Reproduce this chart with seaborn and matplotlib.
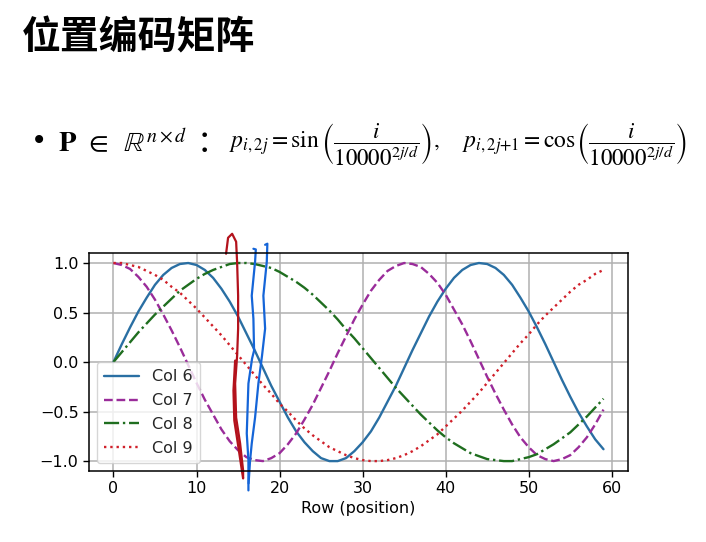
import matplotlib
matplotlib.use("Agg")
import matplotlib.pyplot as plt
import seaborn as sns
import pandas as pd

# ---------------- data ----------------
rows = list(range(60))
col6 = [0.00, 0.18, 0.35, 0.51, 0.65, 0.78, 0.88, 0.95, 0.99, 1.00,
        0.98, 0.93, 0.85, 0.74, 0.61, 0.46, 0.29, 0.12, -0.06, -0.24,
        -0.40, -0.56, -0.70, -0.81, -0.90, -0.97, -1.00, -1.00, -0.97, -0.90,
        -0.81, -0.70, -0.56, -0.40, -0.24, -0.06, 0.12, 0.29, 0.46, 0.61,
        0.74, 0.85, 0.93, 0.98, 1.00, 0.99, 0.95, 0.88, 0.78, 0.65,
        0.51, 0.35, 0.18, 0.00, -0.18, -0.35, -0.51, -0.65, -0.78, -0.88]
col7 = [1.00, 0.98, 0.94, 0.86, 0.76, 0.63, 0.48, 0.32, 0.15, -0.03,
        -0.21, -0.38, -0.53, -0.68, -0.80, -0.89, -0.96, -0.99, -1.00, -0.97,
        -0.92, -0.83, -0.72, -0.58, -0.43, -0.26, -0.09, 0.09, 0.26, 0.43,
        0.58, 0.72, 0.83, 0.92, 0.97, 1.00, 0.99, 0.96, 0.89, 0.80,
        0.68, 0.53, 0.38, 0.21, 0.03, -0.15, -0.32, -0.48, -0.63, -0.76,
        -0.86, -0.94, -0.98, -1.00, -0.98, -0.94, -0.86, -0.76, -0.63, -0.48]
col8 = [0.00, 0.10, 0.20, 0.30, 0.39, 0.48, 0.56, 0.64, 0.72, 0.78,
        0.84, 0.89, 0.93, 0.96, 0.99, 1.00, 1.00, 0.99, 0.97, 0.95,
        0.91, 0.86, 0.81, 0.75, 0.68, 0.60, 0.52, 0.43, 0.33, 0.24,
        0.14, 0.04, -0.06, -0.16, -0.26, -0.35, -0.44, -0.53, -0.61, -0.69,
        -0.76, -0.82, -0.87, -0.92, -0.95, -0.98, -0.99, -1.00, -1.00, -0.98,
        -0.96, -0.93, -0.88, -0.83, -0.77, -0.71, -0.63, -0.55, -0.46, -0.37]
col9 = [1.00, 1.00, 0.98, 0.96, 0.92, 0.88, 0.83, 0.76, 0.70, 0.62,
        0.54, 0.45, 0.36, 0.27, 0.17, 0.07, -0.03, -0.13, -0.23, -0.32,
        -0.42, -0.50, -0.59, -0.67, -0.74, -0.80, -0.86, -0.90, -0.94, -0.97,
        -0.99, -1.00, -1.00, -0.99, -0.97, -0.94, -0.90, -0.85, -0.79, -0.73,
        -0.65, -0.57, -0.49, -0.40, -0.31, -0.21, -0.11, -0.01, 0.09, 0.19,
        0.28, 0.38, 0.47, 0.55, 0.63, 0.71, 0.78, 0.83, 0.89, 0.93]
series_names = ["Col 6", "Col 7", "Col 8", "Col 9"]
xticks = [0, 10, 20, 30, 40, 50, 60]
yticks = [-1.0, -0.5, 0.0, 0.5, 1.0]
x_label = "Row (position)"
title = "位置编码矩阵"

# hand-drawn annotation strokes on the slide (in data units)
ink_red_x = [13.56, 13.80, 14.29, 14.77, 14.89, 15.01, 15.01, 14.89, 14.65, 14.77,
             15.25, 15.61, 15.61, 15.37, 15.01, 14.55, 14.45, 14.65]
ink_red_y = [1.094, 1.255, 1.295, 1.215, 1.003, 0.670, 0.338, 0.066, -0.217, -0.560,
             -0.822, -1.094, -1.175, -1.044, -0.842, -0.590, -0.287, 0.015]
ink_blue1_x = [16.85, 17.14, 17.05, 16.65, 16.85, 16.93, 16.69, 16.25, 16.05, 16.25, 16.25]
ink_blue1_y = [1.144, 1.137, 1.013, 0.670, 0.438, 0.116, 0.035, -0.217, -0.721, -0.993, -1.296]
ink_blue2_x = [18.26, 18.53, 18.46, 18.05, 18.26, 17.89, 17.45, 17.05, 16.65, 16.45, 16.27]
ink_blue2_y = [1.184, 1.195, 1.013, 0.670, 0.338, 0.066, -0.217, -0.560, -0.822, -0.993, -1.225]

# ---------------- styling ----------------
sns.set_theme(style="ticks")
plt.rcParams["font.family"] = ["DejaVu Sans"]
plt.rcParams["mathtext.fontset"] = "stix"

colors = {"Col 6": "#2a6fa3", "Col 7": "#9a2c9a", "Col 8": "#1f6e1f", "Col 9": "#d0202a"}
dashes = {"Col 6": "", "Col 7": (3.7, 1.6), "Col 8": (6.4, 1.6, 1.0, 1.6), "Col 9": (1.0, 1.65)}

df = pd.DataFrame({
    "row": rows * 4,
    "value": col6 + col7 + col8 + col9,
    "series": sum([[n] * len(rows) for n in series_names], []),
})

fig = plt.figure(figsize=(7.06, 5.42), dpi=100)
fig.patch.set_facecolor("white")
ax = fig.add_axes([0.126, 0.131, 0.7635, 0.402])

sns.lineplot(data=df, x="row", y="value", hue="series", style="series",
             palette=colors, dashes=dashes, linewidth=1.7, ax=ax, legend=True)

ax.set_xlim(-2.95, 61.95)
ax.set_ylim(-1.1, 1.1)
ax.set_xticks(xticks)
ax.set_yticks(yticks)
ax.grid(True, color="#b0b0b0", linewidth=1.1)
ax.set_axisbelow(True)
for s in ax.spines.values():
    s.set_color("black")
    s.set_linewidth(1.1)
ax.tick_params(labelsize=11.5, colors="black", length=4, width=1.0, direction="out")
ax.set_xlabel(x_label, fontsize=11.5, color="black", labelpad=3)
ax.set_ylabel("")

handles, labels = ax.get_legend_handles_labels()
leg = ax.legend(handles, labels, loc="lower left", prop={"size": 11.5}, frameon=True,
                handlelength=2.2, borderpad=0.45, labelspacing=0.55,
                bbox_to_anchor=(0.0, 0.0))
leg.get_frame().set_edgecolor("#cccccc")

# annotation ink strokes
ax.plot(ink_red_x, ink_red_y, color="#b3121c", linewidth=1.6, clip_on=False, solid_capstyle="round")
ax.plot(ink_blue1_x, ink_blue1_y, color="#1565d8", linewidth=1.6, clip_on=False, solid_capstyle="round")
ax.plot(ink_blue2_x, ink_blue2_y, color="#1565d8", linewidth=1.6, clip_on=False, solid_capstyle="round")

# slide title & formula
def px(x, y):
    return x / 706, 1 - y / 542

fig.text(*px(22, 38), title, fontsize=28, fontweight="bold",
         family=["Noto Sans CJK SC", "DejaVu Sans"], va="center", ha="left", color="black")
fig.text(*px(31, 141), "•", fontsize=20, va="center", ha="left", color="black")
fig.text(*px(58, 152), r"$\mathbf{P}\;\,\in\;\;\mathbb{R}^{n\times d}$", fontsize=20.5,
         va="baseline", ha="left", color="black")
fig.text(*px(197, 152.5), "：", fontsize=22, family=["Noto Sans CJK SC", "DejaVu Sans"],
         va="baseline", ha="left", color="black")
frac = r"\left(\dfrac{i}{10000^{2j/d}}\right)"
fig.text(*px(229, 148), r"$p_{i,2j}=\sin$", fontsize=17, va="baseline", ha="left", color="black")
fig.text(*px(321, 148), "$" + frac + ",$", fontsize=16.5, va="baseline", ha="left", color="black")
fig.text(*px(462, 148), r"$p_{i,2j{+}1}=\cos$", fontsize=17, va="baseline", ha="left", color="black")
fig.text(*px(576, 148), "$" + frac + "$", fontsize=16.5, va="baseline", ha="left", color="black")

fig.savefig("out.png", dpi=100, facecolor="white")
